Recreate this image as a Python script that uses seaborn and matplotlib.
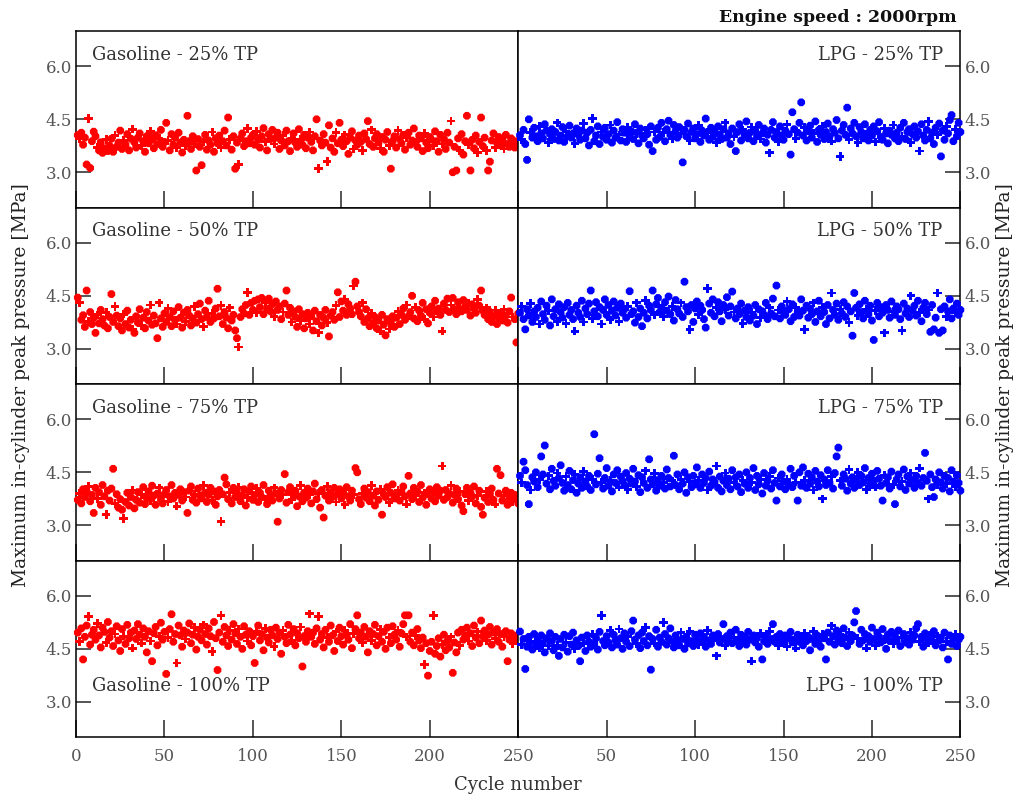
import numpy as np
import pandas as pd
import matplotlib
matplotlib.use("Agg")
import matplotlib.pyplot as plt
import seaborn as sns

# ---------------- data ----------------
cycles = list(range(1, 251))
loads = ["25% TP", "50% TP", "75% TP", "100% TP"]
fuels = ["Gasoline", "LPG"]
y_ticks = [3.0, 4.5, 6.0]
y_tick_labels = ["3.0", "4.5", "6.0"]
x_ticks = [0, 50, 100, 150, 200, 250]
x_tick_labels = ["0", "50", "100", "150", "200", "250"]

gasoline_25 = [
    4.05, 3.95, 4.12, 3.78, 3.98, 3.22, 4.52, 3.12, 3.88, 4.15,
    4.02, 3.70, 3.62, 3.85, 3.55, 3.68, 3.92, 3.60, 3.75, 3.95,
    3.58, 4.05, 3.72, 3.84, 4.18, 3.66, 3.90, 3.78, 4.08, 3.62,
    3.95, 4.22, 3.85, 3.70, 3.98, 4.10, 3.76, 3.88, 3.58, 4.02,
    3.82, 4.15, 3.92, 3.68, 4.05, 3.80, 3.95, 4.20, 3.72, 3.86,
    4.40, 3.90, 3.62, 4.08, 3.78, 3.98, 3.70, 4.12, 3.84, 3.56,
    3.92, 3.75, 4.60, 3.88, 3.66, 4.02, 3.80, 3.05, 3.94, 3.72,
    3.20, 3.86, 4.06, 3.64, 3.90, 3.78, 4.14, 3.58, 3.96, 3.82,
    4.04, 3.70, 3.88, 4.18, 3.76, 4.55, 3.92, 3.64, 4.02, 3.10,
    3.84, 3.22, 3.96, 4.10, 3.74, 3.88, 4.24, 3.82, 3.98, 4.06,
    3.78, 4.16, 3.92, 3.70, 4.02, 4.25, 3.86, 3.62, 4.08, 3.94,
    4.20, 3.80, 3.98, 4.12, 3.66, 3.90, 4.04, 3.76, 4.18, 3.88,
    3.60, 3.96, 4.10, 3.84, 3.72, 4.22, 3.92, 3.78, 4.06, 3.68,
    3.98, 4.14, 3.86, 3.62, 4.02, 4.50, 3.10, 3.90, 3.76, 4.08,
    3.84, 3.30, 4.33, 3.70, 3.96, 3.58, 4.12, 3.82, 4.40, 3.92,
    3.74, 4.06, 3.88, 3.52, 3.98, 4.16, 3.66, 3.90, 3.78, 4.04,
    3.86, 3.62, 4.10, 3.94, 4.45, 3.80, 4.20, 3.72, 3.96, 4.08,
    3.84, 3.68, 4.00, 3.58, 3.92, 4.14, 3.76, 3.10, 3.88, 4.02,
    3.70, 4.18, 3.94, 3.82, 4.06, 3.64, 3.98, 4.12, 3.78, 3.90,
    4.24, 3.86, 3.72, 4.04, 3.96, 3.60, 4.10, 3.84, 3.68, 4.00,
    3.92, 3.76, 4.16, 3.88, 3.58, 4.06, 3.80, 3.94, 3.66, 4.12,
    3.84, 4.45, 3.00, 3.72, 3.05, 3.96, 3.62, 4.08, 3.50, 3.88,
    4.60, 3.78, 3.05, 3.92, 3.68, 4.04, 3.56, 3.86, 4.55, 3.74,
    3.98, 3.62, 3.05, 3.30, 3.90, 4.10, 3.70, 3.84, 4.00, 3.76,
    3.92, 3.66, 4.06, 3.80, 3.72, 3.96, 3.84, 3.70, 3.88, 3.78,
]

lpg_25 = [
    4.05, 3.92, 4.20, 3.80, 3.35, 4.50, 4.12, 3.98, 4.26, 4.02,
    3.88, 4.30, 4.10, 3.96, 4.36, 4.18, 3.84, 4.08, 4.22, 3.94,
    4.14, 4.40, 3.90, 4.04, 4.28, 3.86, 4.16, 4.02, 4.32, 3.98,
    4.10, 3.82, 4.24, 4.06, 3.92, 4.18, 4.38, 3.96, 4.12, 3.76,
    4.20, 4.52, 3.88, 4.04, 4.30, 3.80, 4.14, 4.00, 4.26, 3.92,
    4.08, 4.34, 3.84, 4.18, 3.98, 4.42, 4.06, 3.90, 4.22, 4.12,
    3.86, 4.28, 4.02, 4.16, 3.94, 4.36, 4.10, 3.82, 4.24, 4.04,
    3.96, 4.20, 4.08, 3.78, 4.30, 3.60, 4.14, 3.92, 4.26, 4.00,
    4.40, 4.12, 3.88, 4.22, 4.46, 4.06, 3.94, 4.34, 4.16, 3.98,
    4.28, 4.10, 3.28, 4.20, 4.02, 4.38, 3.90, 4.14, 4.24, 3.96,
    4.08, 4.32, 3.86, 4.18, 4.04, 4.52, 4.12, 3.92, 4.26, 4.00,
    4.16, 3.84, 4.30, 4.06, 3.94, 4.22, 4.40, 3.98, 4.10, 3.80,
    4.24, 4.02, 3.60, 4.14, 4.36, 3.90, 4.20, 4.06, 4.44, 3.96,
    4.12, 4.28, 3.88, 4.18, 4.02, 4.34, 3.94, 4.10, 4.24, 3.84,
    4.06, 3.55, 4.20, 4.42, 3.98, 4.14, 3.86, 4.30, 4.04, 3.92,
    4.18, 4.36, 4.08, 3.50, 4.70, 4.22, 3.96, 4.12, 4.40, 4.98,
    4.04, 4.26, 3.90, 4.16, 4.32, 3.98, 4.10, 4.44, 3.86, 4.20,
    4.06, 4.30, 3.94, 4.14, 4.38, 4.02, 3.88, 4.22, 4.12, 4.48,
    3.96, 3.45, 4.18, 4.34, 4.06, 4.83, 3.92, 4.24, 4.10, 4.40,
    4.02, 3.84, 4.28, 4.14, 3.96, 4.36, 4.08, 3.90, 4.20, 4.04,
    4.30, 3.86, 4.16, 4.42, 4.00, 3.92, 4.24, 4.10, 3.82, 4.18,
    4.06, 4.34, 3.96, 4.12, 3.88, 4.26, 4.02, 4.40, 3.94, 4.14,
    4.22, 3.84, 4.08, 4.30, 3.98, 4.16, 3.60, 4.36, 4.04, 3.90,
    4.20, 4.44, 3.96, 4.12, 3.80, 4.26, 4.06, 4.38, 3.45, 4.18,
    3.92, 4.30, 4.10, 4.48, 4.62, 3.88, 4.22, 4.02, 4.40, 4.14,
]

gasoline_50 = [
    4.45, 4.30, 3.82, 3.95, 3.62, 4.65, 3.78, 4.04, 3.70, 3.88,
    3.45, 3.96, 3.72, 4.10, 3.84, 3.66, 4.02, 3.58, 3.90, 4.55,
    3.76, 4.20, 3.94, 3.64, 3.86, 3.52, 3.98, 3.70, 4.08, 3.60,
    3.82, 3.56, 3.45, 3.92, 3.74, 4.12, 3.66, 3.88, 3.58, 4.04,
    3.80, 4.24, 3.68, 3.94, 3.72, 3.30, 4.30, 3.86, 3.62, 4.00,
    3.76, 4.14, 3.90, 3.64, 4.06, 3.82, 3.70, 4.18, 3.88, 3.60,
    4.02, 3.78, 4.10, 3.94, 3.66, 3.86, 4.20, 3.74, 3.98, 4.28,
    3.84, 3.62, 4.08, 3.90, 4.36, 3.76, 4.00, 3.86, 4.14, 4.70,
    3.92, 4.22, 3.70, 4.04, 3.88, 3.58, 4.16, 3.80, 3.96, 3.52,
    3.30, 3.05, 3.90, 4.12, 4.00, 4.24, 4.60, 3.96, 4.30, 4.10,
    4.36, 4.02, 4.40, 4.18, 4.44, 3.98, 4.32, 4.14, 4.42, 4.06,
    4.26, 3.92, 4.34, 4.10, 4.20, 3.84, 4.04, 4.28, 4.65, 3.96,
    4.16, 3.76, 4.06, 3.90, 3.62, 4.12, 3.80, 3.98, 3.58, 3.86,
    4.02, 3.70, 3.92, 3.52, 4.08, 3.78, 3.45, 3.96, 3.66, 3.88,
    4.10, 3.74, 3.35, 3.94, 4.04, 3.82, 4.22, 4.60, 3.90, 4.34,
    4.08, 4.40, 3.96, 4.26, 4.14, 3.98, 4.78, 4.90, 4.20, 4.04,
    3.92, 4.30, 3.76, 4.12, 3.86, 3.64, 4.00, 3.72, 3.90, 3.58,
    3.80, 3.50, 3.96, 3.68, 3.38, 3.84, 3.56, 3.74, 3.92, 3.62,
    3.88, 4.06, 3.70, 3.96, 4.14, 3.82, 4.24, 3.92, 4.04, 4.50,
    3.86, 4.18, 3.78, 4.08, 3.94, 4.30, 3.84, 4.12, 3.72, 4.02,
    4.20, 3.90, 4.36, 4.06, 4.14, 3.96, 3.50, 4.28, 4.10, 4.42,
    4.04, 4.24, 4.44, 4.12, 3.98, 4.32, 4.18, 4.06, 4.38, 4.20,
    4.10, 4.30, 3.94, 4.26, 4.14, 4.02, 4.40, 4.22, 4.65, 4.08,
    3.96, 4.16, 3.84, 4.04, 3.76, 3.92, 4.10, 3.70, 3.88, 4.02,
    3.80, 4.12, 3.94, 3.74, 4.06, 4.45, 3.90, 3.84, 3.18, 4.00,
]

lpg_50 = [
    4.02, 4.20, 3.84, 3.55, 4.12, 3.94, 4.28, 3.76, 4.06, 3.90,
    4.16, 3.70, 4.34, 3.98, 3.82, 4.22, 4.08, 3.66, 4.40, 3.92,
    4.12, 3.78, 4.26, 4.04, 3.88, 4.18, 3.72, 4.30, 3.96, 4.10,
    3.84, 3.50, 4.22, 4.02, 3.90, 4.36, 3.76, 4.14, 3.98, 4.28,
    4.65, 3.86, 4.06, 4.32, 3.92, 4.18, 3.70, 4.10, 4.40, 3.96,
    4.24, 3.82, 4.08, 4.34, 3.94, 4.16, 3.78, 4.28, 4.02, 4.12,
    3.88, 4.20, 4.63, 3.98, 4.06, 3.74, 4.30, 3.90, 4.14, 3.64,
    4.02, 4.36, 3.86, 4.22, 4.10, 4.65, 3.96, 4.26, 4.44, 4.04,
    4.16, 3.92, 4.32, 4.08, 4.48, 3.98, 4.20, 3.80, 4.38, 4.12,
    4.00, 4.30, 3.90, 4.90, 4.18, 4.06, 3.55, 4.24, 3.76, 4.14,
    4.34, 3.96, 4.22, 4.10, 3.84, 3.60, 4.71, 4.28, 4.02, 4.40,
    3.92, 4.18, 4.32, 4.06, 3.78, 4.24, 4.12, 4.46, 3.94, 4.20,
    4.62, 4.04, 3.86, 4.14, 3.98, 4.28, 3.72, 4.08, 3.90, 4.18,
    3.80, 4.02, 3.94, 4.24, 3.70, 4.12, 3.88, 4.06, 3.96, 4.30,
    3.84, 4.16, 4.00, 4.42, 3.92, 4.79, 4.10, 3.86, 4.20, 4.04,
    3.96, 4.34, 4.12, 3.78, 4.26, 3.90, 4.18, 4.02, 3.94, 4.40,
    4.08, 3.55, 4.22, 3.88, 4.14, 3.98, 4.30, 3.76, 4.06, 4.36,
    3.92, 4.18, 4.04, 3.70, 4.24, 3.86, 4.58, 4.10, 3.96, 4.28,
    3.82, 4.12, 4.00, 4.32, 3.90, 4.20, 3.74, 4.06, 3.37, 4.58,
    4.16, 3.94, 4.26, 4.04, 3.86, 4.36, 4.12, 3.98, 4.22, 3.80,
    3.25, 4.08, 4.30, 3.92, 4.18, 4.02, 3.45, 4.24, 4.10, 3.88,
    4.34, 4.06, 3.96, 4.20, 4.12, 3.84, 3.52, 4.28, 4.00, 4.14,
    3.90, 4.50, 4.08, 4.22, 3.94, 4.36, 4.02, 3.78, 4.16, 4.30,
    3.98, 4.10, 3.48, 4.24, 3.55, 3.88, 4.58, 3.45, 4.12, 3.52,
    4.20, 3.92, 4.06, 4.40, 3.86, 4.14, 4.02, 4.28, 3.96, 4.10,
]

gasoline_75 = [
    3.72, 3.90, 3.62, 4.02, 3.80, 3.96, 4.10, 3.68, 3.86, 3.35,
    4.06, 3.76, 3.94, 3.58, 4.14, 3.82, 3.30, 3.98, 3.70, 4.04,
    4.60, 3.62, 3.88, 3.50, 3.74, 3.44, 3.20, 3.66, 3.92, 3.56,
    3.80, 4.00, 3.48, 3.72, 3.94, 3.64, 3.86, 4.08, 3.60, 3.78,
    3.96, 3.70, 4.12, 3.84, 3.58, 3.90, 4.06, 3.74, 3.62, 3.88,
    4.00, 3.68, 3.82, 4.14, 3.76, 3.92, 3.54, 3.86, 4.02, 3.70,
    3.94, 3.80, 3.35, 3.98, 4.10, 3.72, 3.88, 3.64, 4.04, 3.84,
    3.76, 4.12, 3.92, 3.66, 3.86, 4.06, 3.70, 3.96, 3.58, 3.82,
    4.00, 3.10, 3.88, 4.35, 4.16, 3.74, 3.94, 3.62, 4.06, 3.80,
    3.90, 4.08, 3.68, 3.84, 4.02, 3.56, 3.78, 3.96, 4.10, 3.72,
    3.86, 4.04, 3.66, 3.92, 3.80, 4.14, 3.74, 3.60, 3.98, 3.84,
    3.70, 4.06, 3.90, 3.10, 3.76, 4.00, 3.86, 4.45, 3.64, 3.94,
    4.08, 3.72, 3.88, 3.98, 3.54, 3.82, 4.12, 3.68, 3.92, 3.78,
    4.04, 3.86, 3.62, 3.96, 4.18, 3.74, 3.90, 3.50, 4.00, 3.22,
    3.84, 4.10, 3.70, 3.94, 3.80, 4.06, 3.66, 3.88, 4.02, 3.76,
    3.92, 3.58, 4.08, 3.82, 3.70, 3.98, 3.86, 4.62, 4.50, 3.74,
    3.60, 3.90, 4.04, 3.78, 3.94, 3.68, 4.12, 3.84, 3.56, 3.96,
    3.72, 4.02, 3.30, 3.88, 3.80, 4.08, 3.64, 3.92, 4.16, 3.76,
    3.86, 4.00, 3.70, 3.94, 4.10, 3.82, 3.60, 4.40, 3.90, 3.74,
    4.06, 3.84, 3.96, 3.66, 4.14, 3.78, 3.92, 3.58, 3.88, 4.02,
    3.76, 3.94, 3.68, 4.08, 3.84, 3.98, 4.68, 3.72, 4.00, 3.80,
    3.90, 4.12, 3.64, 3.86, 4.04, 3.74, 3.96, 3.56, 3.40, 3.88,
    4.06, 3.70, 3.92, 3.82, 4.10, 3.62, 3.84, 3.98, 3.52, 3.30,
    3.78, 3.96, 3.66, 3.88, 4.04, 3.72, 3.60, 4.60, 3.90, 4.42,
    3.70, 3.84, 3.98, 3.58, 3.76, 3.92, 3.66, 3.86, 3.74, 3.62,
]

lpg_75 = [
    4.40, 4.20, 4.80, 4.56, 4.14, 3.60, 4.00, 4.36, 4.24, 4.50,
    4.08, 4.30, 4.95, 4.44, 5.26, 4.18, 4.40, 4.02, 4.60, 4.26,
    4.12, 4.48, 4.34, 4.70, 4.20, 3.98, 4.38, 4.14, 4.54, 4.02,
    4.28, 4.44, 3.92, 4.18, 4.36, 4.06, 4.52, 4.24, 4.10, 4.40,
    4.00, 4.30, 5.58, 4.16, 4.46, 4.90, 4.22, 4.04, 4.34, 4.62,
    4.12, 4.28, 3.96, 4.44, 4.20, 4.56, 4.08, 4.38, 4.26, 4.14,
    4.48, 4.02, 4.32, 4.18, 4.60, 4.24, 4.10, 4.42, 3.94, 4.36,
    4.20, 4.54, 4.06, 4.87, 4.30, 4.16, 4.46, 3.98, 4.28, 4.12,
    4.40, 4.22, 4.04, 4.58, 4.34, 4.10, 4.26, 4.97, 4.14, 4.44,
    4.02, 4.30, 4.18, 4.50, 3.92, 4.36, 4.24, 4.08, 4.40, 4.16,
    4.64, 4.28, 4.06, 4.44, 4.20, 4.34, 4.00, 4.52, 4.12, 4.30,
    4.22, 4.68, 4.06, 4.38, 3.96, 4.26, 4.48, 4.14, 4.32, 4.02,
    4.56, 4.20, 4.36, 4.10, 4.44, 3.94, 4.28, 4.18, 4.50, 4.06,
    4.34, 4.22, 4.62, 4.00, 4.40, 4.16, 4.30, 3.90, 4.48, 4.12,
    4.26, 4.38, 4.04, 4.56, 4.20, 3.70, 4.34, 4.10, 4.44, 4.24,
    4.02, 4.30, 4.16, 4.60, 4.08, 4.40, 4.22, 3.70, 4.50, 4.12,
    4.64, 4.28, 4.06, 4.46, 4.18, 4.36, 4.00, 4.54, 4.24, 4.10,
    4.42, 3.75, 4.30, 4.14, 4.56, 4.20, 4.38, 4.04, 4.48, 4.95,
    5.20, 4.26, 4.12, 4.44, 4.32, 3.98, 4.58, 4.18, 4.36, 4.06,
    4.28, 4.50, 4.14, 4.40, 4.22, 4.62, 4.02, 4.34, 4.16, 4.46,
    4.26, 4.08, 4.54, 4.32, 4.12, 3.70, 4.42, 4.20, 4.36, 4.04,
    4.52, 4.16, 3.60, 4.30, 4.44, 4.10, 4.24, 4.58, 4.00, 4.38,
    4.18, 4.48, 4.28, 4.06, 4.40, 4.20, 4.62, 4.12, 4.34, 5.05,
    4.26, 3.75, 4.44, 4.08, 3.80, 4.30, 4.16, 4.50, 4.22, 4.04,
    4.40, 4.18, 4.34, 3.96, 4.56, 4.24, 4.10, 4.42, 4.20, 3.98,
]

gasoline_100 = [
    4.96, 4.70, 5.08, 4.20, 4.84, 5.16, 5.42, 4.62, 4.90, 5.04,
    4.76, 5.22, 4.88, 4.54, 5.10, 4.98, 4.68, 5.26, 4.82, 5.00,
    4.58, 4.92, 5.14, 4.74, 4.44, 5.06, 4.86, 4.64, 5.18, 4.80,
    4.96, 4.52, 5.02, 4.78, 5.20, 4.90, 4.66, 5.08, 4.84, 4.40,
    5.00, 4.72, 4.15, 4.94, 5.12, 4.60, 4.86, 5.24, 4.76, 4.98,
    3.79, 4.82, 5.06, 5.48, 4.70, 4.92, 4.10, 5.16, 4.88, 4.56,
    5.02, 4.78, 4.96, 5.22, 4.66, 4.90, 5.10, 4.48, 4.84, 5.04,
    4.74, 5.18, 4.92, 4.62, 5.08, 4.86, 4.42, 5.26, 4.80, 3.90,
    4.96, 5.45, 4.70, 5.12, 4.88, 4.58, 5.02, 4.76, 5.20, 4.94,
    4.64, 5.06, 4.84, 4.50, 5.14, 4.90, 4.72, 5.00, 4.60, 4.86,
    4.10, 4.98, 5.16, 4.74, 4.92, 4.46, 5.08, 4.82, 4.68, 5.04,
    4.88, 4.56, 5.10, 4.78, 4.96, 4.36, 5.02, 4.84, 4.66, 5.18,
    4.90, 4.74, 5.06, 4.60, 4.94, 4.80, 5.12, 4.00, 4.86, 4.70,
    5.00, 5.49, 4.84, 4.96, 4.64, 5.08, 5.42, 4.76, 4.92, 4.54,
    5.04, 4.82, 4.70, 5.16, 4.88, 4.44, 4.98, 4.72, 5.10, 4.86,
    4.62, 5.02, 4.90, 4.76, 5.20, 4.52, 4.94, 5.06, 5.45, 4.80,
    4.96, 4.68, 5.12, 4.84, 4.40, 5.00, 4.74, 4.92, 5.18, 4.60,
    4.86, 5.04, 4.70, 4.98, 4.50, 5.10, 4.82, 4.66, 5.14, 4.90,
    4.76, 5.02, 4.56, 4.94, 5.20, 5.45, 4.84, 5.45, 4.70, 4.96,
    4.60, 4.88, 5.06, 4.74, 4.52, 4.82, 4.05, 4.66, 3.74, 4.44,
    4.70, 5.45, 4.36, 4.58, 4.80, 4.28, 4.62, 4.90, 4.46, 4.72,
    4.54, 4.84, 3.82, 4.68, 4.40, 4.96, 4.60, 5.04, 4.76, 4.88,
    5.10, 4.72, 4.94, 4.58, 5.16, 4.82, 4.98, 4.66, 5.30, 4.86,
    5.02, 4.74, 4.90, 5.12, 4.62, 4.96, 4.80, 5.06, 4.70, 4.92,
    4.56, 4.84, 5.00, 4.15, 4.76, 4.94, 4.64, 4.86, 4.72, 4.90,
]

lpg_100 = [
    4.99, 4.62, 4.78, 3.93, 4.56, 4.84, 4.70, 4.48, 4.92, 4.64,
    4.76, 4.52, 4.88, 4.66, 4.40, 4.80, 4.58, 4.94, 4.72, 4.46,
    4.84, 4.60, 4.30, 4.78, 4.54, 4.90, 4.68, 4.42, 4.86, 4.62,
    4.96, 4.50, 4.74, 4.58, 4.15, 4.82, 4.66, 4.44, 4.88, 4.70,
    4.56, 4.92, 4.64, 4.80, 4.48, 4.98, 5.45, 4.72, 4.60, 4.86,
    4.68, 5.02, 4.54, 4.90, 4.74, 4.62, 5.06, 4.80, 4.50, 4.94,
    4.70, 4.84, 4.58, 5.00, 5.30, 4.76, 4.64, 4.88, 4.52, 4.96,
    4.72, 5.10, 4.60, 4.86, 3.91, 4.78, 4.66, 5.04, 4.56, 4.82,
    4.70, 5.25, 4.92, 4.62, 4.80, 5.08, 4.68, 4.54, 4.88, 4.74,
    4.60, 4.96, 4.78, 4.50, 4.84, 4.66, 5.00, 4.72, 4.58, 4.90,
    4.76, 4.62, 4.94, 4.70, 4.84, 4.56, 5.02, 4.74, 4.64, 4.88,
    4.80, 4.30, 4.92, 4.68, 4.78, 5.20, 4.60, 4.86, 4.72, 4.96,
    4.66, 4.82, 5.04, 4.74, 4.58, 4.90, 4.70, 4.84, 4.62, 4.98,
    4.76, 4.15, 4.88, 4.68, 4.80, 4.56, 4.94, 4.20, 4.72, 4.86,
    4.64, 5.00, 4.78, 5.20, 4.70, 4.84, 4.60, 4.92, 4.74, 4.66,
    4.88, 4.56, 4.80, 4.98, 4.68, 4.76, 4.52, 4.90, 4.70, 4.82,
    4.60, 4.94, 4.72, 4.84, 4.46, 4.78, 5.00, 4.64, 4.88, 4.74,
    4.56, 4.92, 4.80, 4.20, 4.96, 4.70, 5.15, 4.86, 4.62, 5.02,
    4.76, 4.90, 4.66, 5.08, 4.82, 4.58, 4.96, 4.72, 4.88, 5.25,
    5.57, 4.80, 4.64, 5.04, 4.74, 4.92, 4.52, 4.86, 4.70, 5.10,
    4.78, 4.60, 4.96, 4.84, 4.68, 5.06, 4.76, 4.50, 4.90, 4.72,
    4.98, 4.64, 4.86, 4.74, 5.02, 4.58, 4.82, 4.92, 4.68, 4.80,
    4.62, 4.96, 4.76, 4.88, 5.08, 5.20, 4.70, 4.84, 4.56, 4.94,
    4.78, 4.66, 4.90, 4.72, 5.00, 4.60, 4.86, 4.74, 4.82, 4.54,
    4.96, 4.70, 4.20, 4.88, 4.64, 4.80, 4.92, 4.58, 4.76, 4.84,
]

series = {
    ("Gasoline", "25% TP"): gasoline_25,
    ("LPG", "25% TP"): lpg_25,
    ("Gasoline", "50% TP"): gasoline_50,
    ("LPG", "50% TP"): lpg_50,
    ("Gasoline", "75% TP"): gasoline_75,
    ("LPG", "75% TP"): lpg_75,
    ("Gasoline", "100% TP"): gasoline_100,
    ("LPG", "100% TP"): lpg_100,
}
rows = []
for (fuel, load), vals in series.items():
    for c, v in zip(cycles, vals):
        rows.append({"fuel": fuel, "load": load, "cycle": c, "pressure": v})
df = pd.DataFrame(rows)
# marker style alternates (mostly blobs, some small crosses), purely cosmetic
df["mk"] = np.where(df["cycle"] % 5 == 2, "cross", "blob")

# ---------------- plotting ----------------
sns.set_theme(style="white")
plt.rcParams["font.family"] = ["DejaVu Serif"]
plt.rcParams["axes.linewidth"] = 1.1

colors = {"Gasoline": "#ff0000", "LPG": "#0000ff"}
text_grey = "#333333"
tick_grey = "#555555"

fig = plt.figure(figsize=(10.19, 7.96), dpi=100)
gs = fig.add_gridspec(4, 2, left=0.0746, right=0.9425, top=0.961, bottom=0.074,
                      wspace=0, hspace=0)

for r, load in enumerate(loads):
    for c, fuel in enumerate(fuels):
        ax = fig.add_subplot(gs[r, c])
        sub = df[(df["fuel"] == fuel) & (df["load"] == load)]
        blobs = sub[sub["mk"] == "blob"]
        crosses = sub[sub["mk"] == "cross"]
        sns.scatterplot(data=blobs, x="cycle", y="pressure", ax=ax, color=colors[fuel],
                        marker="8", s=36, linewidth=0, edgecolor="none",
                        legend=False, clip_on=False, zorder=3)
        sns.scatterplot(data=crosses, x="cycle", y="pressure", ax=ax, color=colors[fuel],
                        marker="P", s=38, linewidth=0, edgecolor="none",
                        legend=False, clip_on=False, zorder=3)
        ax.set_xlim(0, 250)
        ax.set_ylim(2.0, 7.0)
        ax.set_xlabel("")
        ax.set_ylabel("")
        for sp in ax.spines.values():
            sp.set_visible(True)
            sp.set_color("black")
            sp.set_linewidth(1.1)
        ax.set_yticks(y_ticks)
        ax.set_yticklabels(y_tick_labels)
        ax.set_xticks(x_ticks)
        if c == 1:
            ax.yaxis.tick_right()
        ax.tick_params(axis="y", direction="in", length=11, width=1.1,
                       labelsize=12, labelcolor=tick_grey, pad=3,
                       left=(c == 0), right=(c == 1),
                       labelleft=(c == 0), labelright=(c == 1))
        ax.tick_params(axis="x", direction="in", length=12, width=1.1,
                       labelsize=12, labelcolor=tick_grey, pad=8,
                       bottom=True, top=False, labelbottom=(r == 3))
        if r == 3:
            if c == 0:
                ax.set_xticklabels(x_tick_labels)
            else:
                ax.set_xticklabels([""] + x_tick_labels[1:])
        label = f"{fuel} - {load}"
        ly = 0.29 if r == 3 else 0.865
        if c == 0:
            ax.text(0.036, ly, label, transform=ax.transAxes, ha="left", va="center",
                    fontsize=13, color=text_grey)
        else:
            ax.text(0.96, ly, label, transform=ax.transAxes, ha="right", va="center",
                    fontsize=13, color=text_grey)

fig.text(0.939, 0.978, "Engine speed : 2000rpm", ha="right", va="center",
         fontsize=12.5, fontweight="bold", color="#111111")
fig.text(0.508, 0.014, "Cycle number", ha="center", va="center",
         fontsize=13, color=text_grey)
ylab = "Maximum in-cylinder peak pressure [MPa]"
fig.text(0.021, 0.516, ylab, rotation=90, ha="center", va="center",
         fontsize=13.5, color="#222222")
fig.text(0.986, 0.516, ylab, rotation=90, ha="center", va="center",
         fontsize=13.5, color="#222222")

fig.savefig("out.png", dpi=100)
